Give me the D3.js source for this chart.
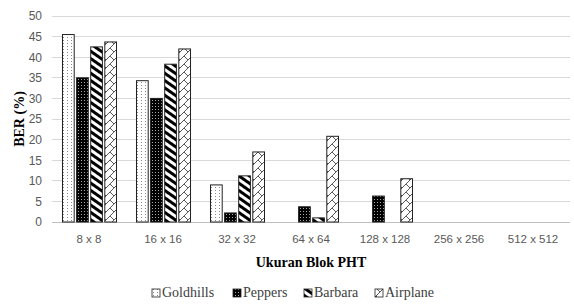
<!DOCTYPE html>
<html><head><meta charset="utf-8">
<script src="https://cdn.jsdelivr.net/npm/d3@7"></script>
<style>
body{margin:0;background:#fff}
#wrap{position:relative;width:574px;height:306px}
#wrap svg{position:absolute;left:0;top:0}
.lbl{position:absolute;font-family:"Times New Roman",Times,serif;font-size:14px;line-height:1;white-space:nowrap;color:#000}
</style>
</head><body><div id="wrap"><svg id="c" width="574" height="306"></svg></div>
<script>
const categories = ["8 x 8","16 x 16","32 x 32","64 x 64","128 x 128","256 x 256","512 x 512"];
const seriesNames = ["Goldhills","Peppers","Barbara","Airplane"];
const goldhills = [45.5,34.3,9.0,0,0,0,0];
const peppers = [35.0,30.0,2.2,3.7,6.3,0,0];
const barbara = [42.5,38.3,11.2,1.0,0,0,0];
const airplane = [43.7,42.0,17.0,20.8,10.5,0,0];
const yTicks = [0,5,10,15,20,25,30,35,40,45,50];
const seriesValues = [goldhills,peppers,barbara,airplane];

const SANS = "Arial, Liberation Sans, sans-serif";
const svg = d3.select("#c");
const wrap = d3.select("#wrap");
const m = {l:52, r:4, t:16, b:84};
const W = 574, H = 306;
const x0 = d3.scaleBand().domain(categories).range([m.l, W-m.r]).paddingInner(0.27).paddingOuter(0.135);
const x1 = d3.scaleBand().domain(seriesNames).range([0, x0.bandwidth()]).paddingInner(0.17);
const y = d3.scaleLinear().domain([0,50]).range([H-m.b, m.t]);

const defs = svg.append("defs");
let p = defs.append("pattern").attr("id","p0").attr("patternUnits","userSpaceOnUse").attr("width",4).attr("height",3);
p.append("rect").attr("width",4).attr("height",3).attr("fill","#fff");
p.append("rect").attr("x",1).attr("y",1).attr("width",1).attr("height",1).attr("fill","#888");
p = defs.append("pattern").attr("id","p1").attr("patternUnits","userSpaceOnUse").attr("width",3).attr("height",3);
p.append("rect").attr("width",3).attr("height",3).attr("fill","#000");
p.append("rect").attr("x",1).attr("y",1).attr("width",1).attr("height",1).attr("fill","#aaa");
p = defs.append("pattern").attr("id","p2").attr("patternUnits","userSpaceOnUse").attr("width",6).attr("height",6).attr("patternTransform","rotate(35)");
p.append("rect").attr("width",6).attr("height",6).attr("fill","#fff");
p.append("rect").attr("width",6).attr("height",3).attr("fill","#000");
p = defs.append("pattern").attr("id","p3").attr("patternUnits","userSpaceOnUse").attr("width",8).attr("height",8);
p.append("rect").attr("width",8).attr("height",8).attr("fill","#fff");
p.append("path").attr("d","M0,8 L8,0 M0,0 L4,4 M-1,1 L1,-1 M7,9 L9,7").attr("stroke","#444").attr("stroke-width",0.9).attr("fill","none");

svg.append("g").selectAll("line").data(yTicks).join("line")
  .attr("x1",m.l).attr("x2",W-m.r).attr("y1",d=>y(d)).attr("y2",d=>y(d))
  .attr("stroke", d=> d===0 ? "#bfbfbf" : "#d9d9d9").attr("stroke-width",1).attr("shape-rendering","crispEdges");

const yAxis = d3.axisLeft(y).tickValues(yTicks).tickSize(0).tickPadding(10);
const gy = svg.append("g").attr("transform",`translate(${m.l},0)`).call(yAxis)
  .attr("font-family",SANS).attr("font-size",12);
gy.select(".domain").remove();
gy.selectAll("text").attr("fill","#595959");

const xAxis = d3.axisBottom(x0).tickSize(0).tickPadding(13);
const gx = svg.append("g").attr("transform",`translate(0,${y(0)})`).call(xAxis)
  .attr("font-family",SANS).attr("font-size",11.5);
gx.select(".domain").remove();
gx.selectAll("text").attr("fill","#595959");

const groups = svg.append("g").selectAll("g").data(categories).join("g")
  .attr("transform", d=>`translate(${x0(d)},0)`);
groups.selectAll("rect").data((d,i)=>seriesNames.map((s,j)=>({s, j, v: seriesValues[j][i]})).filter(e=>e.v>0))
  .join("rect")
  .attr("x", e=>x1(e.s)+0.5).attr("width", x1.bandwidth())
  .attr("y", e=>y(e.v)).attr("height", e=>y(0)-y(e.v))
  .attr("fill", e=>`url(#p${e.j})`).attr("stroke","#222").attr("stroke-width",1);

// axis titles (HTML text, serif)
wrap.append("div").attr("class","lbl")
  .style("left","20px").style("top",((m.t+y(0))/2)+"px").style("font-weight","bold")
  .style("transform","translate(-50%,-50%) rotate(-90deg)").text("BER (%)");
wrap.append("div").attr("class","lbl")
  .style("left",((m.l+W-m.r)/2)+"px").style("top","256px").style("font-weight","bold")
  .style("transform","translateX(-50%)").text("Ukuran Blok PHT");

// legend
const legendX = [152, 233, 304, 375];
svg.append("g").selectAll("rect").data(seriesNames).join("rect")
  .attr("x",(d,i)=>legendX[i]).attr("y",289).attr("width",8).attr("height",8)
  .attr("fill",(d,i)=>`url(#p${i})`).attr("stroke","#222").attr("stroke-width",0.8);
wrap.selectAll("div.leg").data(seriesNames).join("div").attr("class","lbl leg")
  .style("left",(d,i)=>(legendX[i]+10)+"px").style("top","286px").style("color","#404040").text(d=>d);
</script></body></html>
